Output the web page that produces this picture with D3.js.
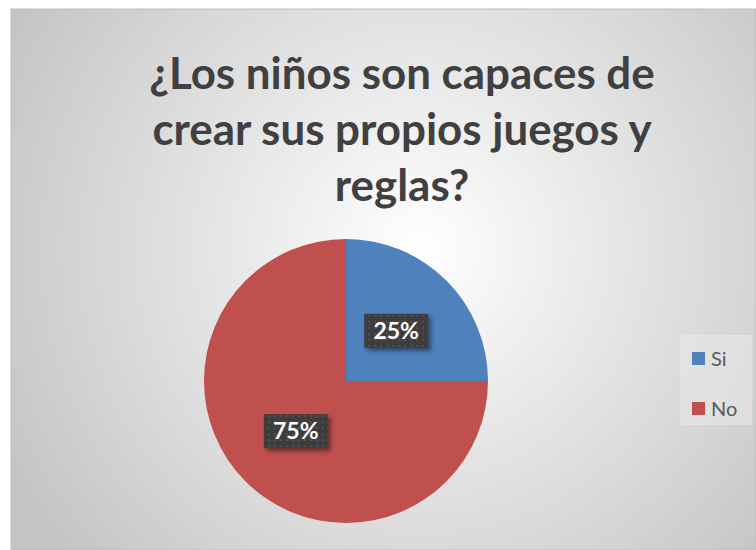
<!DOCTYPE html>
<html>
<head>
<meta charset="utf-8">
<script src="https://cdn.jsdelivr.net/npm/d3@7"></script>
<style>
  body { margin: 0; background: #fff; }
</style>
</head>
<body>
<script>
const width = 756;
const height = 550;

// Data
const categories = ['Si', 'No'];
const values = [25, 75];
const colors = ['#4f81bd', '#c0504d'];
const titleLines = ['¿Los niños son capaces de', 'crear sus propios juegos y', 'reglas?'];

const svg = d3.select('body')
  .append('svg')
  .attr('width', width)
  .attr('height', height);

const defs = svg.append('defs');

// Radial background gradient
const bg = defs.append('radialGradient')
  .attr('id', 'bg-gradient')
  .attr('gradientUnits', 'userSpaceOnUse')
  .attr('cx', 420).attr('cy', 250).attr('r', 470);
bg.append('stop').attr('offset', '0%').attr('stop-color', '#ffffff');
bg.append('stop').attr('offset', '100%').attr('stop-color', '#c4c4c4');

// Dotted pattern for data labels
const pat = defs.append('pattern')
  .attr('id', 'dots')
  .attr('patternUnits', 'userSpaceOnUse')
  .attr('width', 6).attr('height', 6);
pat.append('rect').attr('width', 6).attr('height', 6).attr('fill', '#3c3c3c');
pat.append('rect').attr('x', 2).attr('y', 2).attr('width', 2).attr('height', 2).attr('fill', '#525252');

const shadow = defs.append('filter').attr('id', 'shadow')
  .attr('x', '-20%').attr('y', '-20%').attr('width', '150%').attr('height', '160%');
shadow.append('feDropShadow')
  .attr('dx', 3).attr('dy', 3).attr('stdDeviation', 2)
  .attr('flood-color', '#000').attr('flood-opacity', 0.45);

// Chart area
svg.append('rect')
  .attr('x', 11).attr('y', 9)
  .attr('width', width - 11).attr('height', height - 9)
  .attr('fill', 'url(#bg-gradient)')
  .attr('stroke', '#bdbdbd')
  .attr('stroke-width', 1);

// Title, sized so the first line spans about 505px
const title = svg.append('text')
  .attr('text-anchor', 'middle')
  .attr('fill', '#404040')
  .style('font-family', 'Lato, sans-serif')
  .style('font-weight', 'bold')
  .style('font-size', '44px');
title.selectAll('tspan')
  .data(titleLines)
  .join('tspan')
  .attr('x', 402)
  .attr('y', (d, i) => 89 + i * 56)
  .text(d => d);
const first = title.select('tspan').node().getComputedTextLength();
title.style('font-size', (44 * 505 / first).toFixed(1) + 'px');

// Pie
const cx = 346, cy = 381, radius = 142;
const pie = d3.pie().sort(null).value(d => d.value);
const arc = d3.arc().innerRadius(0).outerRadius(radius);
const data = categories.map((c, i) => ({ name: c, value: values[i], color: colors[i] }));
const arcs = pie(data);

const g = svg.append('g').attr('transform', `translate(${cx},${cy})`);
g.selectAll('path')
  .data(arcs)
  .join('path')
  .attr('d', arc)
  .attr('fill', d => d.data.color);

// Data labels
const labelArc = d3.arc().innerRadius(radius * 0.5).outerRadius(radius * 0.5);
const total = d3.sum(values);
const labels = g.selectAll('g.lbl')
  .data(arcs)
  .join('g')
  .attr('class', 'lbl')
  .attr('transform', d => {
    const [x, y] = labelArc.centroid(d);
    return `translate(${x},${y})`;
  });
labels.append('rect')
  .attr('x', -32).attr('y', -17)
  .attr('width', 64).attr('height', 34)
  .attr('fill', 'url(#dots)')
  .attr('filter', 'url(#shadow)');
labels.append('text')
  .attr('text-anchor', 'middle')
  .attr('dy', '0.36em')
  .attr('fill', '#ffffff')
  .style('font-family', 'Lato, sans-serif')
  .style('font-weight', 'bold')
  .style('font-size', '23px')
  .text(d => Math.round(d.data.value / total * 100) + '%');

// Legend
const legend = svg.append('g').attr('transform', 'translate(680,335)');
legend.append('rect')
  .attr('width', 72).attr('height', 90)
  .attr('fill', '#e8e8e8').attr('fill-opacity', 0.6);
const items = legend.selectAll('g.item')
  .data(data)
  .join('g')
  .attr('class', 'item')
  .attr('transform', (d, i) => `translate(12,${17 + i * 50})`);
items.append('rect')
  .attr('width', 13).attr('height', 13)
  .attr('fill', d => d.color);
items.append('text')
  .attr('x', 19).attr('y', 14)
  .attr('fill', '#595959')
  .style('font-family', 'Lato, sans-serif')
  .style('font-size', '20px')
  .text(d => d.name);
</script>
</body>
</html>
